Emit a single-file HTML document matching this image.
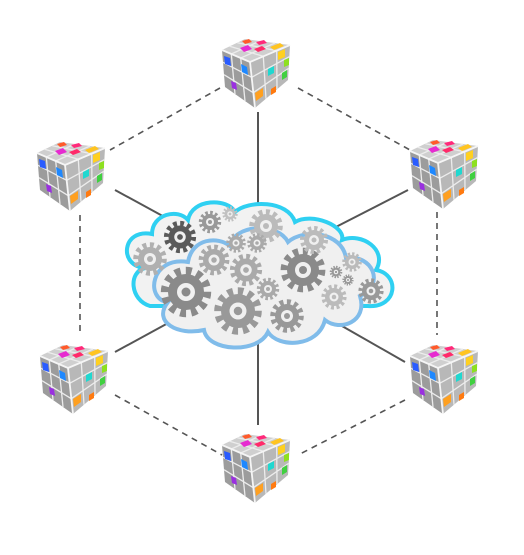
<!DOCTYPE html>
<html><head><style>html,body{margin:0;padding:0;background:#fff;width:524px;height:555px;overflow:hidden}</style></head>
<body>
<svg width="524" height="555" viewBox="0 0 524 555" xmlns="http://www.w3.org/2000/svg">
<defs>
<g id="cube">
<polygon points="0,13 23,2 68,8 28,25" fill="#cfcfcf"/>
<polygon points="0,13 28,25 33,71 3,50" fill="#9c9c9c"/>
<polygon points="28,25 68,8 66,43 33,71" fill="#b8b8b8"/>
<g stroke="#ececec" stroke-width="1.3" fill="none">
<line x1="9.3" y1="17" x2="38" y2="4"/><line x1="18.7" y1="21" x2="53" y2="6"/>
<line x1="7.7" y1="9.3" x2="41.3" y2="19.3"/><line x1="15.3" y1="5.7" x2="54.7" y2="13.7"/>
<line x1="9.3" y1="17" x2="13" y2="57"/><line x1="18.7" y1="21" x2="23" y2="64"/>
<line x1="1" y1="25.3" x2="29.7" y2="40.3"/><line x1="2" y1="37.7" x2="31.3" y2="55.7"/>
<line x1="41.3" y1="19.3" x2="44" y2="61.7"/><line x1="54.7" y1="13.7" x2="55" y2="52.3"/>
<line x1="29.7" y1="40.3" x2="67.3" y2="19.7"/><line x1="31.3" y1="55.7" x2="66.7" y2="31.3"/>
<line x1="28" y1="25" x2="33" y2="71" stroke="#f5f5f5" stroke-width="1.8"/>
<line x1="0" y1="13" x2="28" y2="25" stroke="#f5f5f5" stroke-width="1.8"/>
<line x1="28" y1="25" x2="68" y2="8" stroke="#f5f5f5" stroke-width="1.8"/>
</g>
<polygon points="20,4 27,2 30,5 23,7" fill="#ff5a2a"/>
<polygon points="34,5 42,3 45,6 37,8" fill="#ff2a7a"/>
<polygon points="18,11 26,8 30,12 22,15" fill="#e62bd0"/>
<polygon points="32,12 40,9 44,12 36,15" fill="#ff2a6a"/>
<polygon points="48,10 58,6 62,9 52,13" fill="#ffc420"/>
<polygon points="2,19 8,21 9,29 3,27" fill="#2a5cff"/>
<polygon points="19,27 25,30 26,38 20,35" fill="#1e88ff"/>
<polygon points="9,44 14,46 15,53 10,51" fill="#9a30e0"/>
<polygon points="56,15 63,12 63,20 56,23" fill="#ffd020"/>
<polygon points="62,23 67,21 67,28 62,30" fill="#8ee020"/>
<polygon points="46,32 52,29 52,36 46,39" fill="#20d8d0"/>
<polygon points="60,36 65,33 65,40 60,43" fill="#40d040"/>
<polygon points="33,56 41,51 41,59 34,64" fill="#ffa020"/>
<polygon points="49,52 54,49 54,55 49,58" fill="#ff7a10"/>
</g>
<g id="gear">
<circle r="10" fill="currentColor"/>
<circle r="11.5" fill="none" stroke="currentColor" stroke-width="5" stroke-dasharray="3.2,2.8"/>
<circle r="5" fill="#f0f0f0"/>
<circle r="2.5" fill="currentColor"/>
</g>
</defs>
<g stroke="#555" stroke-width="1.6" stroke-dasharray="6,5" fill="none">
<line x1="220" y1="88" x2="110" y2="150"/>
<line x1="298" y1="88" x2="410" y2="150"/>
<line x1="80" y1="215" x2="80" y2="335"/>
<line x1="437" y1="212" x2="437" y2="335"/>
<line x1="115" y1="395" x2="222" y2="455"/>
<line x1="405" y1="400" x2="298" y2="455"/>
</g>
<g stroke="#555" stroke-width="2" fill="none">
<line x1="258" y1="112" x2="258" y2="205"/>
<line x1="258" y1="340" x2="258" y2="425"/>
<line x1="115" y1="190" x2="170" y2="220"/>
<line x1="408" y1="190" x2="330" y2="230"/>
<line x1="115" y1="352" x2="170" y2="322"/>
<line x1="405" y1="362" x2="335" y2="322"/>
</g>
<g fill="#f2f2f2" stroke="#2fd0f2" stroke-width="4">
<path d="M145,268 C118,266 122,228 152,234 C152,214 178,208 188,220 C192,198 228,198 235,212 C248,200 288,200 295,222 C312,212 346,226 342,240 C362,232 388,250 376,270 C400,274 398,308 368,306 L150,306 C130,300 128,272 145,268 Z"/>
</g>
<g fill="#f0f0f0" stroke="#80bcea" stroke-width="4">
<path d="M168,302 C145,300 150,256 188,262 C192,238 218,236 230,246 C234,224 278,222 288,242 C304,228 342,232 346,258 C372,254 386,284 360,296 C368,322 340,332 325,320 C318,348 278,348 268,332 C258,354 208,352 204,330 C178,336 152,322 168,302 Z"/>
</g>
<g>
<use href="#gear" transform="translate(180,237) scale(1.15)" color="#5a5a5a"/>
<use href="#gear" transform="translate(150,259) scale(1.2)" color="#b0b0b0"/>
<use href="#gear" transform="translate(210,222) scale(0.8)" color="#999"/>
<use href="#gear" transform="translate(230,214) scale(0.55)" color="#c0c0c0"/>
<use href="#gear" transform="translate(266,226) scale(1.2)" color="#bbb"/>
<use href="#gear" transform="translate(186,292) scale(1.8)" color="#8a8a8a"/>
<use href="#gear" transform="translate(214,260) scale(1.1)" color="#aaa"/>
<use href="#gear" transform="translate(246,270) scale(1.15)" color="#aaa"/>
<use href="#gear" transform="translate(236,243) scale(0.7)" color="#aaa"/>
<use href="#gear" transform="translate(257,243) scale(0.7)" color="#aaa"/>
<use href="#gear" transform="translate(238,311) scale(1.7)" color="#999"/>
<use href="#gear" transform="translate(287,316) scale(1.2)" color="#999"/>
<use href="#gear" transform="translate(268,289) scale(0.8)" color="#aaa"/>
<use href="#gear" transform="translate(303,270) scale(1.6)" color="#8a8a8a"/>
<use href="#gear" transform="translate(314,240) scale(1.0)" color="#bbb"/>
<use href="#gear" transform="translate(334,297) scale(0.9)" color="#bbb"/>
<use href="#gear" transform="translate(336,272) scale(0.45)" color="#999"/>
<use href="#gear" transform="translate(348,280) scale(0.4)" color="#999"/>
<use href="#gear" transform="translate(371,291) scale(0.9)" color="#999"/>
<use href="#gear" transform="translate(352,262) scale(0.7)" color="#bbb"/>
</g>
<use href="#cube" x="222" y="37"/>
<use href="#cube" x="37" y="140"/>
<use href="#cube" x="410" y="138"/>
<use href="#cube" x="40" y="343"/>
<use href="#cube" x="410" y="343"/>
<use href="#cube" x="222" y="432"/>
</svg>
</body></html>
